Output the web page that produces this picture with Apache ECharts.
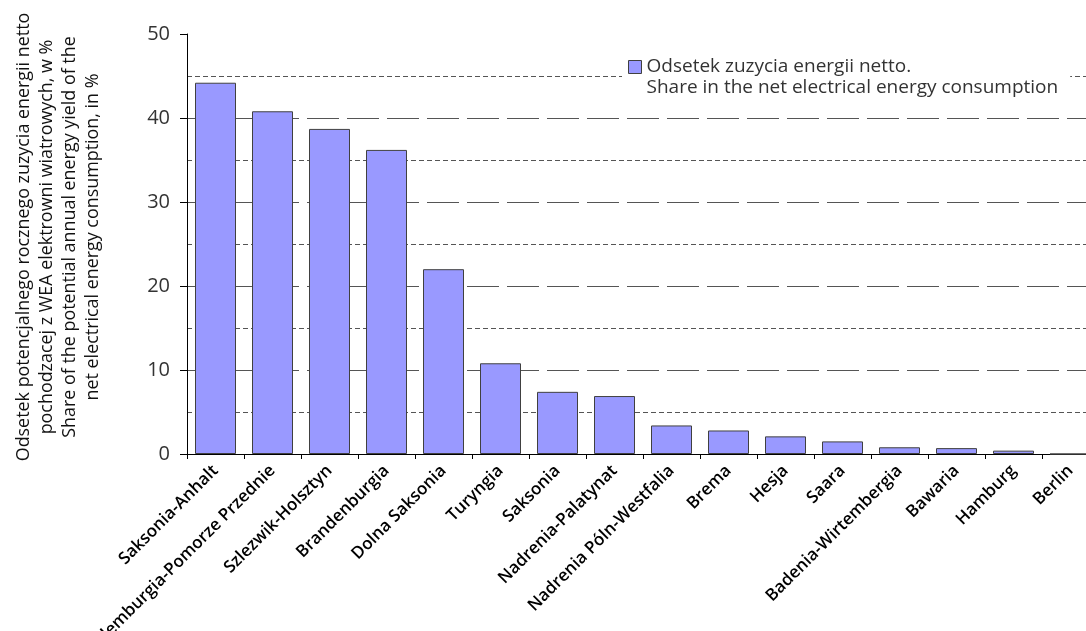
<!DOCTYPE html>
<html>
<head>
<meta charset="utf-8">
<script src="https://cdn.jsdelivr.net/npm/echarts@6/dist/echarts.min.js"></script>
<style>
  html, body { margin: 0; padding: 0; background: #ffffff; }
  #chart { width: 1086px; height: 631px; }
</style>
</head>
<body>
<div id="chart"></div>
<script>
// German federal states (Polish names)
const categories = [
  'Saksonia-Anhalt', 'Meklemburgia-Pomorze Przednie', 'Szlezwik-Holsztyn',
  'Brandenburgia', 'Dolna Saksonia', 'Turyngia', 'Saksonia',
  'Nadrenia-Palatynat', 'Nadrenia Póln-Westfalia', 'Brema', 'Hesja', 'Saara',
  'Badenia-Wirtembergia', 'Bawaria', 'Hamburg', 'Berlin'
];

// Share of net electricity consumption covered by wind yield, in %
const shareValues = [44.2, 40.8, 38.7, 36.2, 22.0, 10.8, 7.4, 6.9, 3.4, 2.8, 2.1, 1.5, 0.8, 0.7, 0.4, 0];

const seriesName = 'Odsetek zuzycia energii netto.\nShare in the net electrical energy consumption';

const yAxisTitle = [
  'Odsetek potencjalnego rocznego zuzycia energii netto',
  'pochodzacej z WEA elektrowni wiatrowych, w %',
  'Share of the potential annual energy yield of the',
  'net electrical energy consumption, in %'
].join('\n');

const yMin = 0;
const yMax = 50;
const yStep = 10;

// Legend swatch: a square aligned with the first text line of a two-line entry
const legendSwatch = 'path://M0,0M0,4h13v13h-13zM13,42';

const chart = echarts.init(document.getElementById('chart'), null, { renderer: 'canvas' });

chart.setOption({
  backgroundColor: '#ffffff',
  animation: false,
  textStyle: { fontFamily: 'Open Sans' },
  grid: {
    left: 187, right: -13, top: 34, bottom: 177,
    containLabel: false,
    outerBoundsMode: 'none'
  },
  legend: {
    left: 622,
    top: 52,
    padding: [4, 12, 4, 6],
    backgroundColor: '#ffffff',
    icon: legendSwatch,
    itemWidth: 13,
    itemHeight: 42,
    itemGap: 6,
    itemStyle: { color: '#9999ff', borderColor: '#404040', borderWidth: 1 },
    textStyle: {
      fontFamily: 'Open Sans',
      fontSize: 19,
      color: '#333333',
      lineHeight: 21
    },
    data: [seriesName]
  },
  xAxis: {
    type: 'category',
    data: categories,
    boundaryGap: true,
    axisLine: { show: true, lineStyle: { color: '#000000', width: 1 } },
    axisTick: { show: true, length: 5, alignWithLabel: false, lineStyle: { color: '#000000' } },
    axisLabel: {
      interval: 0,
      rotate: 45,
      margin: 14,
      fontFamily: 'Open Sans',
      fontSize: 17,
      fontWeight: 600,
      color: '#000000'
    },
    splitLine: { show: false }
  },
  yAxis: {
    type: 'value',
    min: yMin,
    max: yMax,
    interval: yStep,
    name: yAxisTitle,
    nameLocation: 'middle',
    nameRotate: 90,
    nameGap: 83,
    nameTextStyle: {
      fontFamily: 'Open Sans',
      fontSize: 17.9,
      lineHeight: 23,
      color: '#111111',
      align: 'center',
      padding: [0, 0, 0, 14]
    },
    axisLine: { show: true, lineStyle: { color: '#000000', width: 1 } },
    axisTick: { show: true, length: 7, lineStyle: { color: '#000000' } },
    axisLabel: { fontFamily: 'Open Sans', fontSize: 20, color: '#333333', margin: 17 },
    splitLine: {
      show: true,
      showMaxLine: false,
      lineStyle: { color: '#555555', width: 1, type: [32, 8] }
    },
    minorTick: { show: false, splitNumber: 2 },
    minorSplitLine: { show: true, lineStyle: { color: '#555555', width: 1, type: [5, 3] } }
  },
  series: [{
    name: seriesName,
    type: 'bar',
    data: shareValues,
    barWidth: 41,
    itemStyle: { color: '#9999ff', borderColor: '#404040', borderWidth: 1 }
  }]
});
</script>
</body>
</html>
